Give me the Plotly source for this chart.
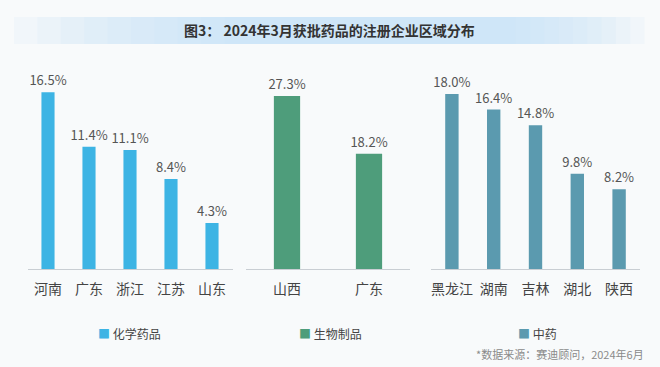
import plotly.graph_objects as go

# ---- data ----
chem_regions = ["河南", "广东", "浙江", "江苏", "山东"]
chem_values = [16.5, 11.4, 11.1, 8.4, 4.3]
bio_regions = ["山西", "广东"]
bio_values = [27.3, 18.2]
tcm_regions = ["黑龙江", "湖南", "吉林", "湖北", "陕西"]
tcm_values = [18.0, 16.4, 14.8, 9.8, 8.2]
series_names = ["化学药品", "生物制品", "中药"]
title_text = "图3： 2024年3月获批药品的注册企业区域分布"
source_text = "*数据来源：赛迪顾问，2024年6月"

# ---- style ----
W, H = 660, 367
FONT = "Noto Sans CJK SC, Noto Sans, sans-serif"
colors = ["#3db4e4", "#4e9d7b", "#5b9aaf"]
bg = "#f8fafb"

panels = [
    (chem_regions, chem_values, (27.5, 232.5), 19.5),
    (bio_regions, bio_values, (246, 410), 33.0),
    (tcm_regions, tcm_values, (431, 640), 21.5),
]
legend_centers = [129, 330, 537]

y_dom = [(H - 269) / H, 1 - 60 / H]

fig = go.Figure()
layout_axes = {}
for i, (cats, vals, (x0, x1), ymax) in enumerate(panels):
    n = "" if i == 0 else str(i + 1)
    fig.add_trace(go.Bar(
        x=cats, y=vals, name=series_names[i],
        marker=dict(color=colors[i], line=dict(width=0)),
        text=[f"{v:.1f}%" for v in vals],
        textposition="outside",
        constraintext="none",
        textfont=dict(family=FONT, size=13, color="#555555"),
        cliponaxis=False,
        xaxis="x" + n, yaxis="y" + n,
        showlegend=False,
    ))
    layout_axes["xaxis" + n] = dict(
        domain=[x0 / W, x1 / W], anchor="y" + n,
        type="category", showline=True, linecolor="#c9ced3", linewidth=1,
        showgrid=False, zeroline=False,
        ticks="outside", ticklen=7, tickcolor="rgba(0,0,0,0)",
        tickfont=dict(family=FONT, size=14, color="#444444"),
        fixedrange=True,
    )
    layout_axes["yaxis" + n] = dict(
        domain=y_dom, anchor="x" + n, range=[0, ymax],
        visible=False, showgrid=False, zeroline=False, fixedrange=True,
    )

# title band (layered translucent rects for a soft gradient)
shapes = []
for k in range(10):
    inset = 10 + k * 26
    shapes.append(dict(
        type="rect", xref="paper", yref="paper",
        x0=(5 + inset * 0.9) / W, x1=(650 - inset * 0.55) / W,
        y0=1 - 44 / H, y1=1 - 17 / H,
        fillcolor="rgba(195,228,245,0.14)", line=dict(width=0), layer="below",
    ))

annotations = [
    dict(text=f"<b>{title_text}</b>", x=329 / W, y=1 - 30 / H,
         xref="paper", yref="paper", xanchor="center", yanchor="middle",
         showarrow=False, font=dict(family=FONT, size=14, color="#333333")),
    dict(text=source_text, x=646 / W, y=1 - 354 / H,
         xref="paper", yref="paper", xanchor="right", yanchor="middle",
         showarrow=False, font=dict(family=FONT, size=11, color="#8a8a8a")),
]
for name, c, cx in zip(series_names, colors, legend_centers):
    annotations.append(dict(
        text=f"<span style='color:{c}'>■</span> {name}",
        x=cx / W, y=1 - 333 / H, xref="paper", yref="paper",
        xanchor="center", yanchor="middle", showarrow=False,
        font=dict(family=FONT, size=12, color="#444444"),
    ))

fig.update_layout(
    width=W, height=H,
    margin=dict(l=0, r=0, t=0, b=0),
    paper_bgcolor=bg, plot_bgcolor="rgba(0,0,0,0)",
    bargap=0.68,
    showlegend=False,
    shapes=shapes,
    annotations=annotations,
    **layout_axes,
)

fig.write_html(
    "out.html",
    config={"displayModeBar": False},
    post_script="document.body.style.margin='0';document.body.style.overflow='hidden';",
)
